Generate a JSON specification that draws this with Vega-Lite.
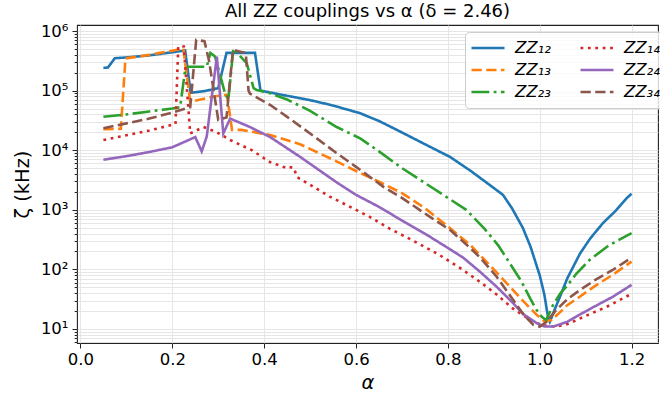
{
  "$schema": "https://vega.github.io/schema/vega-lite/v6.json",
  "autosize": {"type": "none"},
  "width": 581,
  "height": 318,
  "padding": {"left": 77, "top": 25, "right": 2, "bottom": 60},
  "background": "white",
  "title": {"text": "All ZZ couplings vs α (δ = 2.46)", "font": "DejaVu Sans", "fontSize": 18, "fontWeight": "normal", "color": "black", "anchor": "middle", "offset": 2},
  "config": {
    "view": {"stroke": "#222", "strokeWidth": 1.1},
    "axis": {"labelFont": "DejaVu Sans", "titleFont": "DejaVu Sans", "labelColor": "black", "titleColor": "black", "tickColor": "#222", "domainColor": "#222", "gridColor": "#e3e3e3", "gridWidth": 0.9}
  },
  "data": {"values": [
    {"p":"ZZ₁₂","a":0.05,"v":240000},{"p":"ZZ₁₂","a":0.06,"v":245000},{"p":"ZZ₁₂","a":0.075,"v":350000},{"p":"ZZ₁₂","a":0.10,"v":360000},{"p":"ZZ₁₂","a":0.15,"v":390000},{"p":"ZZ₁₂","a":0.20,"v":440000},{"p":"ZZ₁₂","a":0.228,"v":470000},{"p":"ZZ₁₂","a":0.24,"v":92000},{"p":"ZZ₁₂","a":0.27,"v":98000},{"p":"ZZ₁₂","a":0.30,"v":110000},{"p":"ZZ₁₂","a":0.318,"v":430000},{"p":"ZZ₁₂","a":0.38,"v":430000},{"p":"ZZ₁₂","a":0.392,"v":100000},{"p":"ZZ₁₂","a":0.441,"v":84300},{"p":"ZZ₁₂","a":0.5,"v":69200},{"p":"ZZ₁₂","a":0.55,"v":56200},{"p":"ZZ₁₂","a":0.609,"v":41700},{"p":"ZZ₁₂","a":0.65,"v":30900},{"p":"ZZ₁₂","a":0.689,"v":21900},{"p":"ZZ₁₂","a":0.75,"v":12600},{"p":"ZZ₁₂","a":0.805,"v":7690},{"p":"ZZ₁₂","a":0.85,"v":4470},{"p":"ZZ₁₂","a":0.88,"v":3020},{"p":"ZZ₁₂","a":0.92,"v":1780},{"p":"ZZ₁₂","a":0.94,"v":1050},{"p":"ZZ₁₂","a":0.963,"v":501},{"p":"ZZ₁₂","a":0.98,"v":240},{"p":"ZZ₁₂","a":1.0,"v":79.4},{"p":"ZZ₁₂","a":1.01,"v":38},{"p":"ZZ₁₂","a":1.018,"v":15.8},{"p":"ZZ₁₂","a":1.022,"v":13.2},{"p":"ZZ₁₂","a":1.03,"v":19},{"p":"ZZ₁₂","a":1.044,"v":34.7},{"p":"ZZ₁₂","a":1.06,"v":70.8},{"p":"ZZ₁₂","a":1.088,"v":186},{"p":"ZZ₁₂","a":1.11,"v":331},{"p":"ZZ₁₂","a":1.138,"v":603},{"p":"ZZ₁₂","a":1.165,"v":955},{"p":"ZZ₁₂","a":1.19,"v":1585},{"p":"ZZ₁₂","a":1.2,"v":1860},

    {"p":"ZZ₁₃","a":0.05,"v":22400},{"p":"ZZ₁₃","a":0.088,"v":22900},{"p":"ZZ₁₃","a":0.098,"v":347000},{"p":"ZZ₁₃","a":0.15,"v":398000},{"p":"ZZ₁₃","a":0.20,"v":468000},{"p":"ZZ₁₃","a":0.224,"v":513000},{"p":"ZZ₁₃","a":0.239,"v":64600},{"p":"ZZ₁₃","a":0.29,"v":79400},{"p":"ZZ₁₃","a":0.319,"v":85100},{"p":"ZZ₁₃","a":0.33,"v":21900},{"p":"ZZ₁₃","a":0.35,"v":21900},{"p":"ZZ₁₃","a":0.413,"v":18000},{"p":"ZZ₁₃","a":0.478,"v":12600},{"p":"ZZ₁₃","a":0.55,"v":6920},{"p":"ZZ₁₃","a":0.6,"v":4470},{"p":"ZZ₁₃","a":0.65,"v":2950},{"p":"ZZ₁₃","a":0.7,"v":1905},{"p":"ZZ₁₃","a":0.75,"v":1070},{"p":"ZZ₁₃","a":0.8,"v":525},{"p":"ZZ₁₃","a":0.85,"v":251},{"p":"ZZ₁₃","a":0.9,"v":100},{"p":"ZZ₁₃","a":0.935,"v":51.3},{"p":"ZZ₁₃","a":0.96,"v":31.6},{"p":"ZZ₁₃","a":0.993,"v":17.4},{"p":"ZZ₁₃","a":1.011,"v":13.2},{"p":"ZZ₁₃","a":1.025,"v":14.1},{"p":"ZZ₁₃","a":1.04,"v":17.8},{"p":"ZZ₁₃","a":1.06,"v":25.1},{"p":"ZZ₁₃","a":1.087,"v":34.7},{"p":"ZZ₁₃","a":1.12,"v":52.5},{"p":"ZZ₁₃","a":1.159,"v":81.3},{"p":"ZZ₁₃","a":1.2,"v":135},

    {"p":"ZZ₂₃","a":0.05,"v":36300},{"p":"ZZ₂₃","a":0.10,"v":39800},{"p":"ZZ₂₃","a":0.15,"v":44700},{"p":"ZZ₂₃","a":0.20,"v":50100},{"p":"ZZ₂₃","a":0.217,"v":52500},{"p":"ZZ₂₃","a":0.228,"v":224000},{"p":"ZZ₂₃","a":0.235,"v":251000},{"p":"ZZ₂₃","a":0.275,"v":251000},{"p":"ZZ₂₃","a":0.283,"v":427000},{"p":"ZZ₂₃","a":0.293,"v":372000},{"p":"ZZ₂₃","a":0.315,"v":89100},{"p":"ZZ₂₃","a":0.322,"v":70800},{"p":"ZZ₂₃","a":0.333,"v":513000},{"p":"ZZ₂₃","a":0.345,"v":398000},{"p":"ZZ₂₃","a":0.362,"v":288000},{"p":"ZZ₂₃","a":0.377,"v":110000},{"p":"ZZ₂₃","a":0.384,"v":102000},{"p":"ZZ₂₃","a":0.413,"v":90200},{"p":"ZZ₂₃","a":0.45,"v":70800},{"p":"ZZ₂₃","a":0.5,"v":45700},{"p":"ZZ₂₃","a":0.558,"v":24500},{"p":"ZZ₂₃","a":0.609,"v":15800},{"p":"ZZ₂₃","a":0.65,"v":9550},{"p":"ZZ₂₃","a":0.7,"v":5010},{"p":"ZZ₂₃","a":0.75,"v":2820},{"p":"ZZ₂₃","a":0.8,"v":1585},{"p":"ZZ₂₃","a":0.84,"v":1000},{"p":"ZZ₂₃","a":0.88,"v":479},{"p":"ZZ₂₃","a":0.91,"v":251},{"p":"ZZ₂₃","a":0.935,"v":126},{"p":"ZZ₂₃","a":0.96,"v":63.1},{"p":"ZZ₂₃","a":0.98,"v":31.6},{"p":"ZZ₂₃","a":0.993,"v":20.9},{"p":"ZZ₂₃","a":1.005,"v":15.8},{"p":"ZZ₂₃","a":1.014,"v":14.1},{"p":"ZZ₂₃","a":1.03,"v":26.3},{"p":"ZZ₂₃","a":1.045,"v":39.8},{"p":"ZZ₂₃","a":1.058,"v":51.3},{"p":"ZZ₂₃","a":1.08,"v":85.1},{"p":"ZZ₂₃","a":1.109,"v":145},{"p":"ZZ₂₃","a":1.15,"v":251},{"p":"ZZ₂₃","a":1.2,"v":407},

    {"p":"ZZ₁₄","a":0.05,"v":14800},{"p":"ZZ₁₄","a":0.10,"v":17800},{"p":"ZZ₁₄","a":0.15,"v":21400},{"p":"ZZ₁₄","a":0.207,"v":27500},{"p":"ZZ₁₄","a":0.213,"v":550000},{"p":"ZZ₁₄","a":0.225,"v":550000},{"p":"ZZ₁₄","a":0.239,"v":19100},{"p":"ZZ₁₄","a":0.268,"v":24500},{"p":"ZZ₁₄","a":0.297,"v":20000},{"p":"ZZ₁₄","a":0.326,"v":14800},{"p":"ZZ₁₄","a":0.373,"v":10000},{"p":"ZZ₁₄","a":0.413,"v":6310},{"p":"ZZ₁₄","a":0.449,"v":5010},{"p":"ZZ₁₄","a":0.455,"v":5250},{"p":"ZZ₁₄","a":0.465,"v":5010},{"p":"ZZ₁₄","a":0.471,"v":3550},{"p":"ZZ₁₄","a":0.5,"v":2630},{"p":"ZZ₁₄","a":0.543,"v":1660},{"p":"ZZ₁₄","a":0.6,"v":1000},{"p":"ZZ₁₄","a":0.63,"v":759},{"p":"ZZ₁₄","a":0.674,"v":479},{"p":"ZZ₁₄","a":0.72,"v":316},{"p":"ZZ₁₄","a":0.78,"v":178},{"p":"ZZ₁₄","a":0.833,"v":97.7},{"p":"ZZ₁₄","a":0.87,"v":61.7},{"p":"ZZ₁₄","a":0.906,"v":38},{"p":"ZZ₁₄","a":0.942,"v":21.9},{"p":"ZZ₁₄","a":0.97,"v":15.8},{"p":"ZZ₁₄","a":0.993,"v":12.6},{"p":"ZZ₁₄","a":1.015,"v":11.2},{"p":"ZZ₁₄","a":1.036,"v":11.0},{"p":"ZZ₁₄","a":1.055,"v":11.7},{"p":"ZZ₁₄","a":1.072,"v":13.2},{"p":"ZZ₁₄","a":1.1,"v":16.6},{"p":"ZZ₁₄","a":1.145,"v":23.4},{"p":"ZZ₁₄","a":1.2,"v":38.9},

    {"p":"ZZ₂₄","a":0.05,"v":6920},{"p":"ZZ₂₄","a":0.10,"v":7940},{"p":"ZZ₂₄","a":0.15,"v":9330},{"p":"ZZ₂₄","a":0.20,"v":11200},{"p":"ZZ₂₄","a":0.25,"v":16600},{"p":"ZZ₂₄","a":0.264,"v":9550},{"p":"ZZ₂₄","a":0.275,"v":17000},{"p":"ZZ₂₄","a":0.297,"v":372000},{"p":"ZZ₂₄","a":0.311,"v":19100},{"p":"ZZ₂₄","a":0.326,"v":33900},{"p":"ZZ₂₄","a":0.369,"v":24500},{"p":"ZZ₂₄","a":0.413,"v":16600},{"p":"ZZ₂₄","a":0.478,"v":7760},{"p":"ZZ₂₄","a":0.558,"v":2880},{"p":"ZZ₂₄","a":0.6,"v":1780},{"p":"ZZ₂₄","a":0.65,"v":1120},{"p":"ZZ₂₄","a":0.7,"v":661},{"p":"ZZ₂₄","a":0.75,"v":398},{"p":"ZZ₂₄","a":0.8,"v":229},{"p":"ZZ₂₄","a":0.833,"v":158},{"p":"ZZ₂₄","a":0.87,"v":91.2},{"p":"ZZ₂₄","a":0.906,"v":51.3},{"p":"ZZ₂₄","a":0.94,"v":28.2},{"p":"ZZ₂₄","a":0.964,"v":17.8},{"p":"ZZ₂₄","a":0.993,"v":12.6},{"p":"ZZ₂₄","a":1.01,"v":11.0},{"p":"ZZ₂₄","a":1.03,"v":11.0},{"p":"ZZ₂₄","a":1.06,"v":13.2},{"p":"ZZ₂₄","a":1.087,"v":17.4},{"p":"ZZ₂₄","a":1.12,"v":24.0},{"p":"ZZ₂₄","a":1.159,"v":34.7},{"p":"ZZ₂₄","a":1.2,"v":55.0},

    {"p":"ZZ₃₄","a":0.05,"v":23400},{"p":"ZZ₃₄","a":0.10,"v":28200},{"p":"ZZ₃₄","a":0.15,"v":33900},{"p":"ZZ₃₄","a":0.20,"v":42700},{"p":"ZZ₃₄","a":0.239,"v":52500},{"p":"ZZ₃₄","a":0.252,"v":708000},{"p":"ZZ₃₄","a":0.27,"v":676000},{"p":"ZZ₃₄","a":0.28,"v":316000},{"p":"ZZ₃₄","a":0.30,"v":32400},{"p":"ZZ₃₄","a":0.318,"v":35500},{"p":"ZZ₃₄","a":0.332,"v":479000},{"p":"ZZ₃₄","a":0.36,"v":427000},{"p":"ZZ₃₄","a":0.366,"v":100000},{"p":"ZZ₃₄","a":0.369,"v":89100},{"p":"ZZ₃₄","a":0.413,"v":57500},{"p":"ZZ₃₄","a":0.45,"v":36300},{"p":"ZZ₃₄","a":0.5,"v":19100},{"p":"ZZ₃₄","a":0.558,"v":8910},{"p":"ZZ₃₄","a":0.6,"v":5250},{"p":"ZZ₃₄","a":0.659,"v":2450},{"p":"ZZ₃₄","a":0.7,"v":1585},{"p":"ZZ₃₄","a":0.761,"v":759},{"p":"ZZ₃₄","a":0.805,"v":457},{"p":"ZZ₃₄","a":0.85,"v":224},{"p":"ZZ₃₄","a":0.87,"v":158},{"p":"ZZ₃₄","a":0.906,"v":75.9},{"p":"ZZ₃₄","a":0.942,"v":30.9},{"p":"ZZ₃₄","a":0.964,"v":17.8},{"p":"ZZ₃₄","a":0.986,"v":11.7},{"p":"ZZ₃₄","a":1.0,"v":11.0},{"p":"ZZ₃₄","a":1.015,"v":13.2},{"p":"ZZ₃₄","a":1.036,"v":20.9},{"p":"ZZ₃₄","a":1.06,"v":31.6},{"p":"ZZ₃₄","a":1.087,"v":44.7},{"p":"ZZ₃₄","a":1.12,"v":66.1},{"p":"ZZ₃₄","a":1.159,"v":97.7},{"p":"ZZ₃₄","a":1.2,"v":158}
  ]},
  "mark": {"type": "line", "strokeWidth": 2.6, "clip": true},
  "encoding": {
    "x": {"field": "a", "type": "quantitative",
      "scale": {"domain": [-0.0075, 1.2575], "nice": false, "zero": false},
      "axis": {"values": [0, 0.2, 0.4, 0.6, 0.8, 1.0, 1.2], "format": ".1f", "title": "α", "titleFontStyle": "italic", "titleFontSize": 19.4, "titleFontWeight": "normal", "titlePadding": 6, "labelFontSize": 16.5, "labelPadding": 3, "tickSize": 5, "tickWidth": 1, "grid": true, "domain": false}},
    "y": {"field": "v", "type": "quantitative",
      "scale": {"type": "log", "domain": [5.82, 1261000], "nice": false},
      "axis": {
        "values": [6,7,8,9,10,20,30,40,50,60,70,80,90,100,200,300,400,500,600,700,800,900,1000,2000,3000,4000,5000,6000,7000,8000,9000,10000,20000,30000,40000,50000,60000,70000,80000,90000,100000,200000,300000,400000,500000,600000,700000,800000,900000,1000000],
        "labelExpr": "indexof([10,100,1000,10000,100000,1000000], datum.value) >= 0 ? ['10¹','10²','10³','10⁴','10⁵','10⁶'][indexof([10,100,1000,10000,100000,1000000], datum.value)] : ''",
        "tickSize": {"condition": {"test": "indexof([10,100,1000,10000,100000,1000000], datum.value) >= 0", "value": 5}, "value": 2.8},
        "tickWidth": 1,
        "title": "ζ (kHz)", "titleFontSize": 19.4, "titleFontWeight": "normal", "titlePadding": 8,
        "labelFontSize": 16.5, "labelPadding": 4, "grid": true, "domain": false}},
    "color": {"field": "p", "type": "nominal",
      "scale": {"domain": ["ZZ₁₂","ZZ₁₃","ZZ₂₃","ZZ₁₄","ZZ₂₄","ZZ₃₄"], "range": ["#1f77b4","#ff7f0e","#2ca02c","#d62728","#9467bd","#8c564b"]},
      "legend": {"title": null, "orient": "none", "legendX": 388, "legendY": 7, "columns": 2, "columnPadding": 28, "rowPadding": 0, "clipHeight": 22, "symbolType": "stroke", "symbolSize": 1089, "symbolStrokeWidth": 2.6, "labelFont": "DejaVu Sans", "labelFontSize": 16.5, "labelFontStyle": "italic", "labelColor": "black", "labelOffset": 9, "padding": 5, "strokeColor": "#cccccc", "fillColor": "rgba(255,255,255,0.8)", "cornerRadius": 4}},
    "strokeDash": {"field": "p", "type": "nominal",
      "scale": {"domain": ["ZZ₁₂","ZZ₁₃","ZZ₂₃","ZZ₁₄","ZZ₂₄","ZZ₃₄"], "range": [[1,0],[10.3,4.4],[17.8,4.4,2.8,4.4],[2.8,4.6],[1,0],[10.3,4.4]]},
      "legend": {"title": null, "orient": "none", "legendX": 388, "legendY": 7, "columns": 2, "columnPadding": 28, "rowPadding": 0, "clipHeight": 22, "symbolType": "stroke", "symbolSize": 1089, "symbolStrokeWidth": 2.6, "labelFont": "DejaVu Sans", "labelFontSize": 16.5, "labelFontStyle": "italic", "labelColor": "black", "labelOffset": 9, "padding": 5, "strokeColor": "#cccccc", "fillColor": "rgba(255,255,255,0.8)", "cornerRadius": 4}}
  }
}
